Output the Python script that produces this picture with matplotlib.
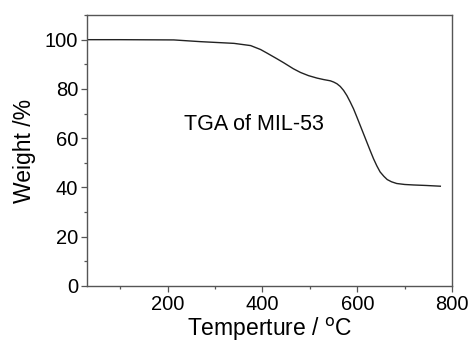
import matplotlib
matplotlib.use("Agg")
import matplotlib.pyplot as plt
from matplotlib.ticker import MultipleLocator

# TGA curve
temp_c = [30, 100, 213, 269, 340, 375, 396, 410, 430, 445, 465, 480, 497,
          515, 529, 543, 550, 557, 564, 571, 578, 585, 592, 599, 606, 613,
          620, 627, 634, 641, 648, 656, 663, 672, 683, 700, 719, 745, 775]
weight_pct = [100.0, 100.0, 99.9, 99.2, 98.5, 97.6, 96.0, 94.5, 92.3, 90.6,
              88.2, 86.7, 85.4, 84.4, 83.8, 83.3, 82.8, 82.1, 81.0, 79.4,
              77.3, 74.7, 71.9, 68.6, 65.2, 61.8, 58.4, 55.0, 51.7, 48.8,
              46.3, 44.5, 43.2, 42.3, 41.6, 41.2, 41.0, 40.8, 40.5]

plt.rcParams["font.family"] = ["Liberation Sans", "DejaVu Sans"]

fig = plt.figure(figsize=(4.73, 3.5), dpi=100)
ax = fig.add_axes([0.184, 0.183, 0.772, 0.774])

ax.plot(temp_c, weight_pct, color="#222222", lw=1.0)

ax.set_xlim(30, 800)
ax.set_ylim(0, 110)
ax.xaxis.set_major_locator(MultipleLocator(200))
ax.xaxis.set_minor_locator(MultipleLocator(100))
ax.yaxis.set_major_locator(MultipleLocator(20))
ax.yaxis.set_minor_locator(MultipleLocator(10))

for s in ax.spines.values():
    s.set_color("#555555")
    s.set_linewidth(1.0)
ax.tick_params(which="major", direction="out", length=4.5, width=0.9,
               color="#555555", labelsize=14.5, pad=2)
ax.tick_params(which="minor", direction="out", length=2.5, width=0.9,
               color="#555555")

ax.set_xlabel("Temperture / $^{\\mathrm{o}}$C", fontsize=16.5, labelpad=1)
ax.set_ylabel("Weight /%", fontsize=16.5, labelpad=6)

ax.text(383, 65.5, "TGA of MIL-53", fontsize=15.5, ha="center", va="center")

fig.savefig("out.png", dpi=100)
